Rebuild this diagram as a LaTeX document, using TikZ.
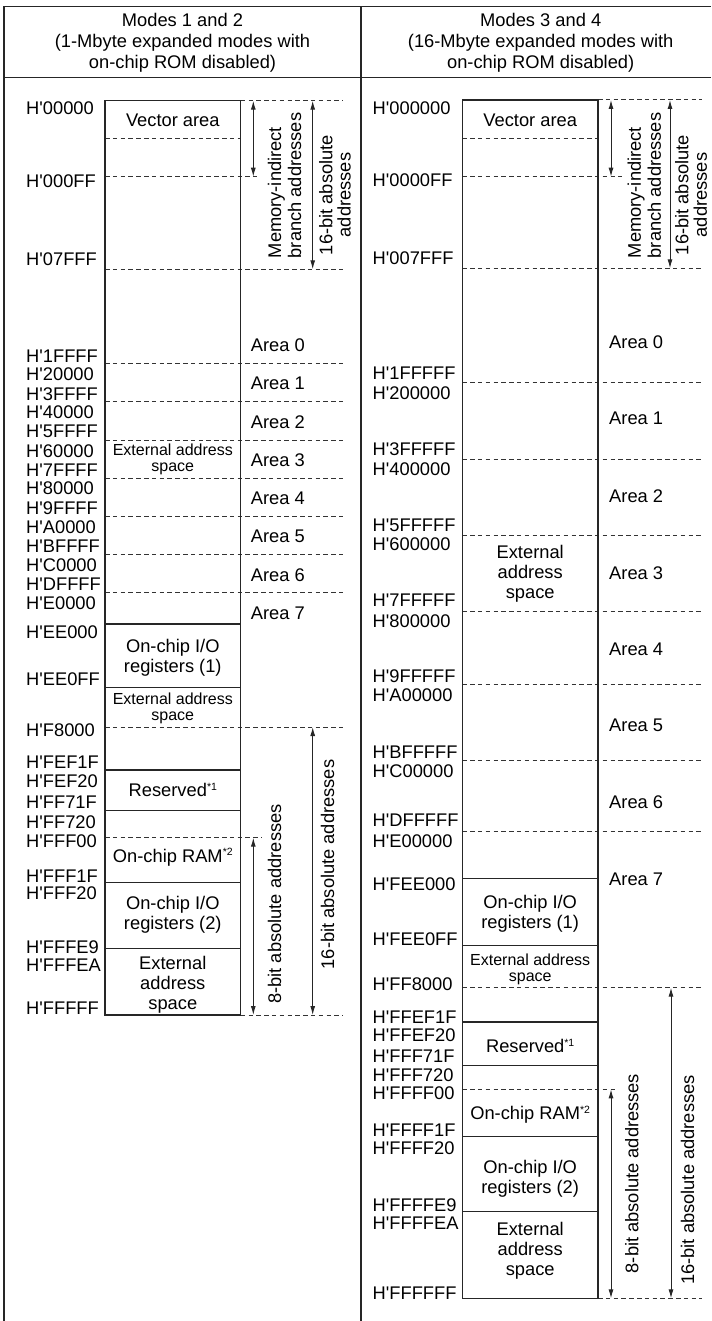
\documentclass[tikz,border=0pt]{standalone}
\usepackage{fontspec}
\setmainfont{Liberation Sans}[Ligatures=TeXOff]
\usetikzlibrary{arrows.meta}
\newcommand{\bigf}{\fontsize{18.3bp}{20bp}\selectfont}
\newcommand{\smallf}{\fontsize{16bp}{16bp}\selectfont}
\newcommand{\supn}[1]{\raisebox{6.5bp}{\fontsize{10.5bp}{10.5bp}\selectfont #1}}
\begin{document}
\begin{tikzpicture}[x=1bp,y=-1bp,
  frame/.style={line width=1.1bp, black!85},
  mbox/.style={line width=1.2bp, black!85},
  dsep/.style={line width=1bp, black!80, dash pattern=on 4.5bp off 3.3bp},
  dim/.style={line width=1bp, black!85, {Latex[length=9bp,width=5bp]}-{Latex[length=9bp,width=5bp]}},
  addr/.style={anchor=west, inner sep=0pt, font=\bigf},
  area/.style={anchor=west, inner sep=0pt, font=\bigf},
  txt/.style={align=center, inner sep=0pt, font=\bigf},
  stxt/.style={align=center, inner sep=0pt, font=\smallf},
  vtxt/.style={rotate=90, inner sep=0pt, font=\bigf},
  head/.style={align=center, inner sep=0pt, font=\fontsize{18.3bp}{21bp}\selectfont}]
\useasboundingbox (0,0) rectangle (711,1321);
% frame
\draw[frame] (4,1321) -- (4,6.7) -- (711,6.7);
\draw[frame] (4,77.3) -- (711,77.3);
\draw[frame] (361,6.7) -- (361,1321);
\node[head] (hL) at (182.5,43) {Modes 1 and 2\\(1-Mbyte expanded modes with\\on-chip ROM disabled)};
\node[head] (hR) at (540.7,43) {Modes 3 and 4\\(16-Mbyte expanded modes with\\on-chip ROM disabled)};

% ===== left column =====
\foreach \y/\e in {138.3/240.7, 176.7/257, 269.3/343, 363.3/343, 401.7/343, 440/343, 478.3/343, 516.7/343, 554.3/343, 592.3/343, 727/343, 837.7/262}
  \draw[dsep] (105,\y) -- (\e,\y);
\draw[dsep] (240.7,100.7) -- (343,100.7);
\draw[dsep] (240.7,1015) -- (343,1015);
\draw[mbox] (105,100.7) rectangle (240.7,1015);
\foreach \y in {624, 687.7, 770, 810.7, 882.7, 948.3}
  \draw[mbox] (105,\y) -- (240.7,\y);

\foreach \y/\t [count=\i] in {108.3/H'00000, 181.7/H'000FF, 259.3/H'07FFF, 356.7/H'1FFFF, 374.3/H'20000, 394.3/H'3FFFF, 412.3/H'40000, 431.7/H'5FFFF, 450.7/H'60000, 470/H'7FFFF, 488.3/H'80000, 508.3/H'9FFFF, 526.7/H'A0000, 546.7/H'BFFFF, 565/H'C0000, 584/H'DFFFF, 603.3/H'E0000, 631.7/H'EE000, 679/H'EE0FF, 730/H'F8000, 762.3/H'FEF1F, 781/H'FEF20, 801.7/H'FF71F, 821.7/H'FF720, 841/H'FFF00, 876/H'FFF1F, 892.7/H'FFF20, 946.7/H'FFFE9, 965/H'FFFEA, 1008.3/H'FFFFF}
  \node[addr] (la\i) at (26,\y) {\t};

\foreach \y/\n in {345/0, 383.3/1, 421.7/2, 460/3, 498.3/4, 536.7/5, 575/6, 613.3/7}
  \node[area] (arL\n) at (250.7,\y) {Area \n};

\node[txt] (vecL) at (172.8,120) {Vector area};
\node[stxt] (ext1L) at (172.8,459.5) {External address\\space};
\node[txt] (io1L) at (172.8,657.5) {On-chip I/O\\registers (1)};
\node[stxt] (ext2L) at (172.8,708.5) {External address\\space};
\node[txt, anchor=base] (resL) at (172.8,796.5) {Reserved\supn{*1}};
\node[txt, anchor=base] (ramL) at (172.8,862) {On-chip RAM\supn{*2}};
\node[txt] (io2L) at (172.8,915) {On-chip I/O\\registers (2)};
\node[txt] (ext3L) at (172.8,985) {External\\address\\space};

\coordinate (mL1) at (253.3,100.7); \coordinate (mL2) at (253.3,176.7);
\coordinate (sL1) at (312.7,100.7); \coordinate (sL2) at (312.7,269.3);
\coordinate (eL1) at (253.3,837.7); \coordinate (eL2) at (253.3,1015);
\coordinate (tL1) at (312.7,727);   \coordinate (tL2) at (312.7,1015);
\draw[dim] (mL1) -- (mL2);
\draw[dim] (sL1) -- (sL2);
\draw[dim] (eL1) -- (eL2);
\draw[dim] (tL1) -- (tL2);
\node[vtxt, align=left, font=\fontsize{18.3bp}{20bp}\selectfont] (memL) at (284.5,185.5) {Memory-indirect\\branch addresses};
\node[vtxt, align=center, font=\fontsize{18.3bp}{18.4bp}\selectfont] (abs16L) at (335,195) {16-bit absolute\\addresses};
\node[vtxt] (b8L) at (274.5,904) {8-bit absolute addresses};
\node[vtxt] (b16L) at (327.5,864.5) {16-bit absolute addresses};

% ===== right column =====
\foreach \y/\e in {138.3/598, 176.7/622, 268.3/702, 382.3/702, 459/702, 535/702, 611/702, 684.3/702, 760.7/702, 831/702, 987.7/702, 1089.3/618}
  \draw[dsep] (462.3,\y) -- (\e,\y);
\draw[dsep] (598,100) -- (702,100);
\draw[dsep] (598,1298.3) -- (702,1298.3);
\draw[mbox] (462.3,100) rectangle (598,1298.3);
\foreach \y in {878.7, 945.7, 1022, 1065.7, 1136.7, 1211.7}
  \draw[mbox] (462.3,\y) -- (598,\y);

\foreach \y/\t [count=\i] in {108.3/H'000000, 180/H'0000FF, 258.3/H'007FFF, 373.3/H'1FFFFF, 392.7/H'200000, 449.3/H'3FFFFF, 469/H'400000, 525/H'5FFFFF, 544/H'600000, 600/H'7FFFFF, 620.7/H'800000, 676/H'9FFFFF, 695/H'A00000, 751.7/H'BFFFFF, 770.7/H'C00000, 820/H'DFFFFF, 840.7/H'E00000, 884.3/H'FEE000, 939.3/H'FEE0FF, 984.3/H'FF8000, 1016.7/H'FFEF1F, 1035/H'FFEF20, 1056/H'FFF71F, 1075/H'FFF720, 1093.3/H'FFFF00, 1130/H'FFFF1F, 1148.3/H'FFFF20, 1205/H'FFFFE9, 1223.3/H'FFFFEA, 1293.3/H'FFFFFF}
  \node[addr] (ra\i) at (372.5,\y) {\t};

\foreach \y/\n in {341.7/0, 418.3/1, 495.7/2, 572.7/3, 649/4, 725.7/5, 802.3/6, 879.3/7}
  \node[area] (arR\n) at (609,\y) {Area \n};

\node[txt] (vecR) at (530.2,120) {Vector area};
\node[txt] (ext1R) at (530.2,573.5) {External\\address\\space};
\node[txt] (io1R) at (530.2,913.5) {On-chip I/O\\registers (1)};
\node[stxt] (ext2R) at (530.2,969) {External address\\space};
\node[txt, anchor=base] (resR) at (530.2,1052.5) {Reserved\supn{*1}};
\node[txt, anchor=base] (ramR) at (530.2,1119.8) {On-chip RAM\supn{*2}};
\node[txt] (io2R) at (530.2,1179) {On-chip I/O\\registers (2)};
\node[txt] (ext3R) at (530.2,1251) {External\\address\\space};

\coordinate (mR1) at (611,100);    \coordinate (mR2) at (611,176.7);
\coordinate (sR1) at (670,100);    \coordinate (sR2) at (670,268.3);
\coordinate (eR1) at (611,1089.3); \coordinate (eR2) at (611,1298.3);
\coordinate (tR1) at (671,987.7);  \coordinate (tR2) at (671,1298.3);
\draw[dim] (mR1) -- (mR2);
\draw[dim] (sR1) -- (sR2);
\draw[dim] (eR1) -- (eR2);
\draw[dim] (tR1) -- (tR2);
\node[vtxt, align=left, font=\fontsize{18.3bp}{20bp}\selectfont] (memR) at (644.2,185.5) {Memory-indirect\\branch addresses};
\node[vtxt, align=center, font=\fontsize{18.3bp}{18.4bp}\selectfont] (abs16R) at (691,195) {16-bit absolute\\addresses};
\node[vtxt] (b8R) at (631.7,1173.5) {8-bit absolute addresses};
\node[vtxt] (b16R) at (687.5,1180) {16-bit absolute addresses};
\end{tikzpicture}
\end{document}
